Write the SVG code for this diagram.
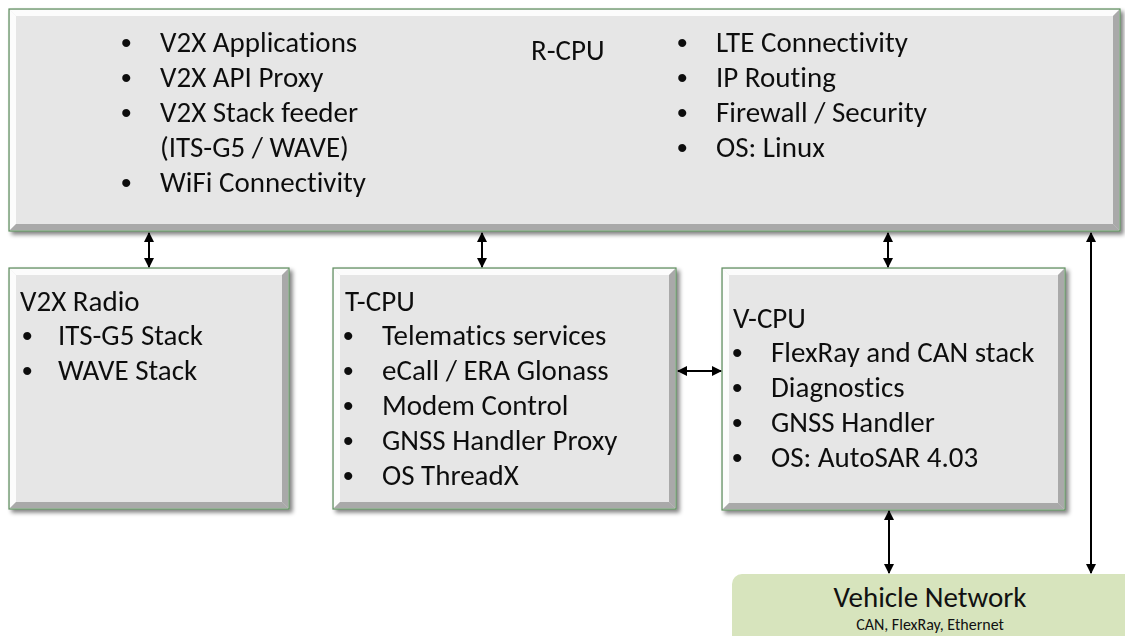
<svg xmlns="http://www.w3.org/2000/svg" width="1125" height="636" viewBox="0 0 1125 636">
<defs>
<style>
.box{fill:#e6e6e6;stroke:#5e8e5e;stroke-width:1.2}
.hl{fill:#ffffff;opacity:0.85}
.sh{fill:#9a9a9a;opacity:0.8}
.t{font-family:Calibri,Carlito,"Open Sans","Liberation Sans",sans-serif;font-size:29px;fill:#111;font-variant-ligatures:none}
.b{font-family:"Liberation Sans",sans-serif;font-size:30px;fill:#111}
.vn{font-family:Calibri,Carlito,"Open Sans","Liberation Sans",sans-serif;font-size:29px;fill:#111;text-anchor:middle}
.vs{font-family:Calibri,Carlito,"Open Sans","Liberation Sans",sans-serif;font-size:16px;fill:#111;text-anchor:middle}
.c{stroke:#000;stroke-width:2;fill:none;marker-start:url(#a);marker-end:url(#a)}
</style>
<marker id="a" viewBox="0 0 10 10" refX="9" refY="5" markerWidth="5" markerHeight="5" orient="auto-start-reverse" markerUnits="strokeWidth">
<path d="M0,0 L10,5 L0,10 Z" fill="#000"/>
</marker>
<filter id="ds" x="-5%" y="-5%" width="112%" height="115%">
<feGaussianBlur in="SourceAlpha" stdDeviation="2"/>
<feOffset dx="3" dy="3"/>
<feComponentTransfer><feFuncA type="linear" slope="0.5"/></feComponentTransfer>
<feMerge><feMergeNode/><feMergeNode in="SourceGraphic"/></feMerge>
</filter>
</defs>
<rect width="1125" height="636" fill="#ffffff"/>

<g id="r-cpu" filter="url(#ds)">
<rect class="box" x="9" y="9" width="1111" height="222"/>
<polygon class="hl" points="10,10 1119,10 1113,16 16,16"/>
<polygon class="hl" points="10,10 16,16 16,224 10,230"/>
<polygon class="sh" points="1119,10 1119,230 1113,224 1113,16"/>
<polygon class="sh" points="10,230 1119,230 1113,224 16,224"/>
<text class="t" x="531" y="60">R-CPU</text>
<g class="t">
<text class="b" x="121" y="53">•</text><text x="160" y="52">V2X Applications</text>
<text class="b" x="121" y="88">•</text><text x="160" y="87">V2X API Proxy</text>
<text class="b" x="121" y="123">•</text><text x="160" y="122">V2X Stack feeder</text>
<text x="160" y="157">(ITS-G5 / WAVE)</text>
<text class="b" x="121" y="193">•</text><text x="160" y="192">WiFi Connectivity</text>
<text class="b" x="677" y="53">•</text><text x="716" y="52">LTE Connectivity</text>
<text class="b" x="677" y="88">•</text><text x="716" y="87">IP Routing</text>
<text class="b" x="677" y="123">•</text><text x="716" y="122">Firewall / Security</text>
<text class="b" x="677" y="158">•</text><text x="716" y="157">OS: Linux</text>
</g>
</g>

<g id="v2x-radio" filter="url(#ds)">
<rect class="box" x="9" y="268" width="280" height="241"/>
<polygon class="hl" points="10,269 288,269 282,275 16,275"/>
<polygon class="hl" points="10,269 16,275 16,502 10,508"/>
<polygon class="sh" points="288,269 288,508 282,502 282,275"/>
<polygon class="sh" points="10,508 288,508 282,502 16,502"/>
<g class="t">
<text x="20" y="311">V2X Radio</text>
<text class="b" x="22" y="346">•</text><text x="58" y="345">ITS-G5 Stack</text>
<text class="b" x="22" y="381">•</text><text x="58" y="380">WAVE Stack</text>
</g>
</g>

<g id="t-cpu" filter="url(#ds)">
<rect class="box" x="333" y="268" width="343" height="241"/>
<polygon class="hl" points="334,269 675,269 669,275 340,275"/>
<polygon class="hl" points="334,269 340,275 340,502 334,508"/>
<polygon class="sh" points="675,269 675,508 669,502 669,275"/>
<polygon class="sh" points="334,508 675,508 669,502 340,502"/>
<g class="t">
<text x="345" y="311">T-CPU</text>
<text class="b" x="343" y="346">•</text><text x="382" y="345">Telematics services</text>
<text class="b" x="343" y="381">•</text><text x="382" y="380">eCall / ERA Glonass</text>
<text class="b" x="343" y="416">•</text><text x="382" y="415">Modem Control</text>
<text class="b" x="343" y="451">•</text><text x="382" y="450">GNSS Handler Proxy</text>
<text class="b" x="343" y="486">•</text><text x="382" y="485">OS ThreadX</text>
</g>
</g>

<g id="v-cpu" filter="url(#ds)">
<rect class="box" x="722" y="268" width="343" height="242"/>
<polygon class="hl" points="723,269 1064,269 1058,275 729,275"/>
<polygon class="hl" points="723,269 729,275 729,503 723,509"/>
<polygon class="sh" points="1064,269 1064,509 1058,503 1058,275"/>
<polygon class="sh" points="723,509 1064,509 1058,503 729,503"/>
<g class="t">
<text x="733" y="328">V-CPU</text>
<text class="b" x="732" y="363">•</text><text x="771" y="362">FlexRay and CAN stack</text>
<text class="b" x="732" y="398">•</text><text x="771" y="397">Diagnostics</text>
<text class="b" x="732" y="433">•</text><text x="771" y="432">GNSS Handler</text>
<text class="b" x="732" y="468">•</text><text x="771" y="467">OS: AutoSAR 4.03</text>
</g>
</g>

<g id="vehicle-network">
<rect x="732" y="574" width="405" height="80" rx="10" ry="10" fill="#d7e4bd"/>
<text class="vn" x="930" y="607">Vehicle Network</text>
<text class="vs" x="930" y="630">CAN, FlexRay, Ethernet</text>
</g>

<g id="connectors">
<line class="c" x1="149" y1="233" x2="149" y2="267"/>
<line class="c" x1="482" y1="233" x2="482" y2="267"/>
<line class="c" x1="888" y1="233" x2="888" y2="267"/>
<line class="c" x1="1091" y1="233" x2="1091" y2="573"/>
<line class="c" x1="889" y1="511" x2="889" y2="573"/>
<line class="c" x1="678" y1="371" x2="721" y2="371"/>
</g>
</svg>
